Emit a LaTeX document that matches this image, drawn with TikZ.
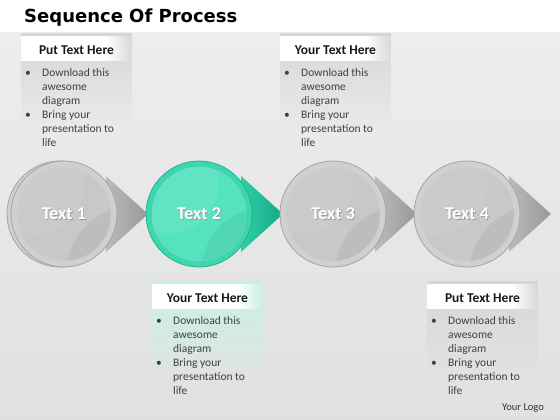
\documentclass[tikz,border=0pt]{standalone}
\usepackage{fontspec}
\setmainfont{Carlito}
\newfontfamily\titlefont{DejaVu Sans}
\usetikzlibrary{calc,fadings}
\definecolor{ringgray}{HTML}{D0D0D0}
\definecolor{discgray}{HTML}{C8C8C8}
\definecolor{edgegray}{HTML}{A4A4A4}
\definecolor{arrgrayA}{HTML}{BBBBBB}
\definecolor{arrgrayB}{HTML}{989898}
\definecolor{ringgreen}{HTML}{3ED6AE}
\definecolor{discgreen}{HTML}{55E2BF}
\definecolor{edgegreen}{HTML}{22B48E}
\definecolor{arrgreenA}{HTML}{2FD0A7}
\definecolor{arrgreenB}{HTML}{13A884}
\definecolor{boxgray}{HTML}{D6D6D6}
\definecolor{boxmint}{HTML}{C4F3E2}
\newcommand{\bul}{\makebox[17pt][l]{\textbullet}}
\newcommand{\ind}{\hspace*{17pt}}
\begin{document}
\begin{tikzpicture}[x=1pt,y=-1pt,
  stepdisc/.style={circle, inner sep=0pt, minimum size=106pt, line width=0.8pt},
  steplabel/.style={font=\fontsize{18}{18}\selectfont\bfseries, text=white},
  labelshadow/.style={font=\fontsize{18}{18}\selectfont\bfseries, text=black!40},
  infohead/.style={font=\fontsize{13.5}{14}\selectfont\bfseries, text=black!90, inner sep=0pt},
  infobody/.style={font=\fontsize{11.5}{14}\selectfont, text=black!75, align=left,
                   inner sep=0pt, anchor=north west}
]
\useasboundingbox (0,0) rectangle (560,420);

% Background
\fill[white] (0,0) rectangle (560,420);
\shade[top color=black!7, middle color=white, bottom color=black!12] (0,33) rectangle (560,420);

% Title
\node[font=\titlefont\bfseries\fontsize{18}{18}\selectfont, anchor=base west, inner sep=0pt]
  (title) at (24,23) {Sequence Of Process};

% Text boxes
\foreach \n/\bx/\by/\tint/\head in {1/21/33/boxgray/Put Text Here, 2/280/33/boxgray/Your Text Here,
    3/152/281/boxmint/Your Text Here, 4/427/281/boxgray/Put Text Here}{
  \fill[\tint, path fading=south] (\bx,\by) rectangle ++(111,97);
  \fill[white] (\bx,\by+3) rectangle ++(85,25);
  \fill[white, path fading=east] (\bx+85,\by+3) rectangle ++(26,25);
  \node[infohead] (h\n) at (\bx+55.5,\by+17) {\head};
  \node[infobody] (b\n) at (\bx+4,\by+35) {\bul Download this\\ \ind awesome\\ \ind diagram\\
    \bul Bring your\\ \ind presentation to\\ \ind life};
}

% Back ring of the first step
\draw[edgegray, line width=0.8pt, fill=ringgray] (60,214) circle (53pt);

% Steps
\foreach \i/\x/\ring/\disc/\edge/\arrA/\arrB in {
    1/64/ringgray/discgray/edgegray/arrgrayA/arrgrayB,
    2/199/ringgreen/discgreen/edgegreen/arrgreenA/arrgreenB,
    3/333/ringgray/discgray/edgegray/arrgrayA/arrgrayB,
    4/467/ringgray/discgray/edgegray/arrgrayA/arrgrayB}{
  \coordinate (o\i) at (\x,214);
  \shade[left color=\arrA, right color=\arrB] ($(o\i)+(42,-38)$) -- ($(o\i)+(42,38)$)
    -- ($(o\i)+(84,0)$) -- cycle;
  \node[stepdisc, fill=\ring, draw=\edge] (c\i) at (o\i) {};
  \draw[\edge!55, line width=0.5pt, fill=\disc] (c\i) circle (47pt);
  \begin{scope}
    \clip (c\i) circle (47pt);
    \fill[white, opacity=0.07] ($(c\i)+(-30,-30)$) circle (50pt);
    \fill[black, opacity=0.05] ($(c\i)+(70,60)$) circle (68pt);
  \end{scope}
  \node[labelshadow] (s\i) at ($(c\i)+(0.9,0.9)$) {Text \i};
  \node[steplabel] (t\i) at (c\i) {Text \i};
}

% Logo
\node[font=\fontsize{10.5}{10}\selectfont, text=black!80] (logo) at (523,408) {Your Logo};
\end{tikzpicture}
\end{document}
